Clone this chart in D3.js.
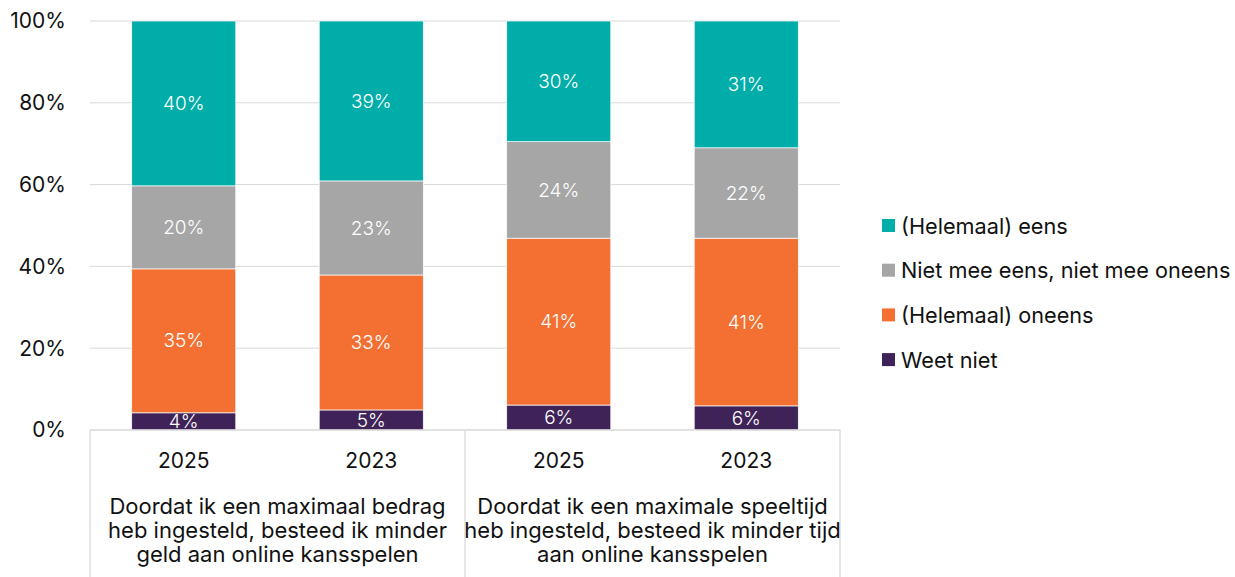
<!DOCTYPE html>
<html>
<head>
<meta charset="utf-8">
<script src="https://cdn.jsdelivr.net/npm/d3@7.9.0/dist/d3.min.js"></script>
<style>
  body { margin: 0; background: #fff; }
  svg { font-family: Inter, "Noto Sans", sans-serif; }
</style>
</head>
<body>
<svg id="chart" width="1235" height="577"></svg>
<script>
// data
const years = ['2025', '2023', '2025', '2023'];
const groups = [
  ['Doordat ik een maximaal bedrag', 'heb ingesteld, besteed ik minder', 'geld aan online kansspelen'],
  ['Doordat ik een maximale speeltijd', 'heb ingesteld, besteed ik minder tijd', 'aan online kansspelen']
];
const seriesNames = ['Weet niet', '(Helemaal) oneens', 'Niet mee eens, niet mee oneens', '(Helemaal) eens'];
const weetNiet = [4.2, 4.9, 6.1, 5.9];
const oneens = [35.2, 33.0, 40.8, 41.0];
const neutraal = [20.3, 23.0, 23.6, 22.1];
const eens = [40.3, 39.1, 29.5, 31.0];
const yTicks = [0, 20, 40, 60, 80, 100];

const colors = ['#3f2358', '#f37032', '#a6a6a6', '#00ada8'];
const values = [weetNiet, oneens, neutraal, eens];

const rows = years.map((y, i) => {
  const r = { id: i };
  seriesNames.forEach((s, k) => { r[s] = values[k][i]; });
  return r;
});

const svg = d3.select('#chart');
const plotLeft = 90, plotRight = 840, plotTop = 21, plotBottom = 430;
const fs = 21;

const x = d3.scaleBand().domain(d3.range(years.length)).range([plotLeft, plotRight]).paddingInner(0.445).paddingOuter(0.2225);
const y = d3.scaleLinear().domain([0, 100]).range([plotBottom, plotTop]);

// gridlines
svg.append('g').selectAll('line').data(yTicks.filter(d => d > 0)).join('line')
  .attr('x1', plotLeft).attr('x2', plotRight)
  .attr('y1', d => y(d)).attr('y2', d => y(d))
  .attr('stroke', '#d9d9d9').attr('stroke-width', 1);

// y labels
svg.append('g').selectAll('text').data(yTicks).join('text')
  .attr('x', 66).attr('y', d => y(d)).attr('dy', '0.35em')
  .attr('text-anchor', 'end').attr('font-size', fs).attr('fill', '#111')
  .text(d => d + '%');

// stacks
const stack = d3.stack().keys(seriesNames)(rows);
const layer = svg.append('g').selectAll('g').data(stack).join('g')
  .attr('fill', (d, i) => colors[i]);

layer.selectAll('rect').data(d => d).join('rect')
  .attr('x', (d, i) => x(i))
  .attr('width', x.bandwidth())
  .attr('y', d => y(d[1]))
  .attr('height', d => y(d[0]) - y(d[1]))
  .attr('stroke', '#fff').attr('stroke-width', 0.7);

layer.selectAll('text').data(d => d).join('text')
  .attr('x', (d, i) => x(i) + x.bandwidth() / 2)
  .attr('y', d => (y(d[0]) + y(d[1])) / 2)
  .attr('dy', '0.35em')
  .attr('text-anchor', 'middle').attr('font-size', 19).attr('font-weight', 300).attr('fill', '#fff')
  .text(d => Math.round(d[1] - d[0]) + '%');

// category axis
const axis = svg.append('g').attr('stroke', '#d9d9d9').attr('stroke-width', 1.3);
axis.append('line').attr('x1', plotLeft).attr('x2', plotRight).attr('y1', plotBottom).attr('y2', plotBottom);
[plotLeft, (plotLeft + plotRight) / 2, plotRight].forEach(px => {
  axis.append('line').attr('x1', px).attr('x2', px).attr('y1', plotBottom).attr('y2', 577);
});

svg.append('g').selectAll('text').data(years).join('text')
  .attr('x', (d, i) => x(i) + x.bandwidth() / 2)
  .attr('y', 461).attr('dy', '0.35em')
  .attr('text-anchor', 'middle').attr('font-size', fs).attr('fill', '#111')
  .text(d => d);

const groupWidth = (plotRight - plotLeft) / groups.length;
groups.forEach((lines, g) => {
  const cx = plotLeft + groupWidth * g + groupWidth / 2;
  const t = svg.append('text')
    .attr('text-anchor', 'middle').attr('font-size', 22).attr('fill', '#111');
  lines.forEach((l, j) => {
    t.append('tspan').attr('x', cx).attr('y', 506 + j * 24.2).attr('dy', '0.35em').text(l);
  });
});

// legend
const legendOrder = [3, 2, 1, 0];
const lg = svg.append('g').selectAll('g').data(legendOrder).join('g')
  .attr('transform', (d, i) => `translate(882, ${226 + i * 44.7})`);
lg.append('rect').attr('x', 0).attr('y', -7).attr('width', 13).attr('height', 13)
  .attr('fill', d => colors[d]);
lg.append('text').attr('x', 19).attr('dy', '0.35em')
  .attr('font-size', 21.7).attr('fill', '#111')
  .text(d => seriesNames[d]);
</script>
</body>
</html>
